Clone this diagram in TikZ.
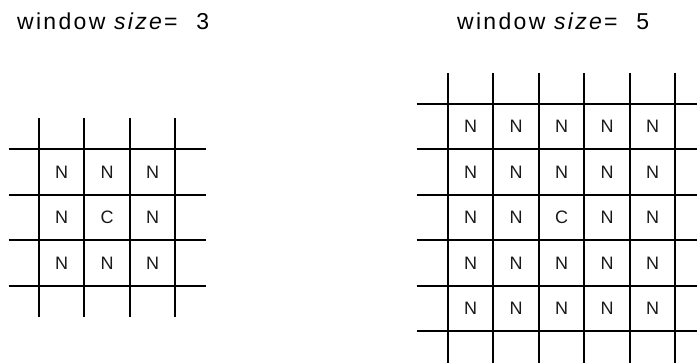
\documentclass[tikz,border=0pt]{standalone}
\usepackage{fontspec}
\setmainfont{Liberation Sans}
\begin{document}
\begin{tikzpicture}[x=1pt,y=-1pt,
  gridline/.style={line width=2pt, black, line cap=butt},
  cell/.style={font=\fontsize{18}{18}\selectfont, inner sep=0pt, text=black!90},
  title/.style={font=\fontsize{23}{23}\selectfont\addfontfeature{LetterSpace=10}, anchor=base west, inner sep=0pt, text=black}]
\clip (0,0) rectangle (697,362);
\useasboundingbox (0,0) rectangle (697,362);
% titles
\node[title] (t3) at (17,29) {window \textit{size}= \hspace{10pt}3};
\node[title] (t5) at (457,29) {window \textit{size}= \hspace{10pt}5};
% left grid: 3x3, centre (107,217.5), pitch 45.5
\foreach \i in {0,...,3} {
  \draw[gridline] ({107+(\i-1.5)*45.5},118) -- ({107+(\i-1.5)*45.5},317);
  \draw[gridline] (8.5,{217.5+(\i-1.5)*45.5}) -- (206,{217.5+(\i-1.5)*45.5});
}
\foreach \r in {0,1,2} {
  \foreach \c in {0,1,2} {
    \pgfmathsetmacro{\lab}{(\r==1 && \c==1) ? "C" : "N"}
    \node[cell] (L-\r-\c) at ({107+(\c-1)*45.5},{217.5+(\r-1)*45.5}) {\lab};
  }
}
% right grid: 5x5, centre (561.5,217.5), pitch 45.5
\foreach \i in {0,...,5} {
  \draw[gridline] ({561.5+(\i-2.5)*45.5},73) -- ({561.5+(\i-2.5)*45.5},364);
  \draw[gridline] (416.5,{217.5+(\i-2.5)*45.5}) -- (700,{217.5+(\i-2.5)*45.5});
}
\foreach \r in {0,...,4} {
  \foreach \c in {0,...,4} {
    \pgfmathsetmacro{\lab}{(\r==2 && \c==2) ? "C" : "N"}
    \node[cell] (R-\r-\c) at ({561.5+(\c-2)*45.5},{217.5+(\r-2)*45.5}) {\lab};
  }
}
\end{tikzpicture}
\end{document}
